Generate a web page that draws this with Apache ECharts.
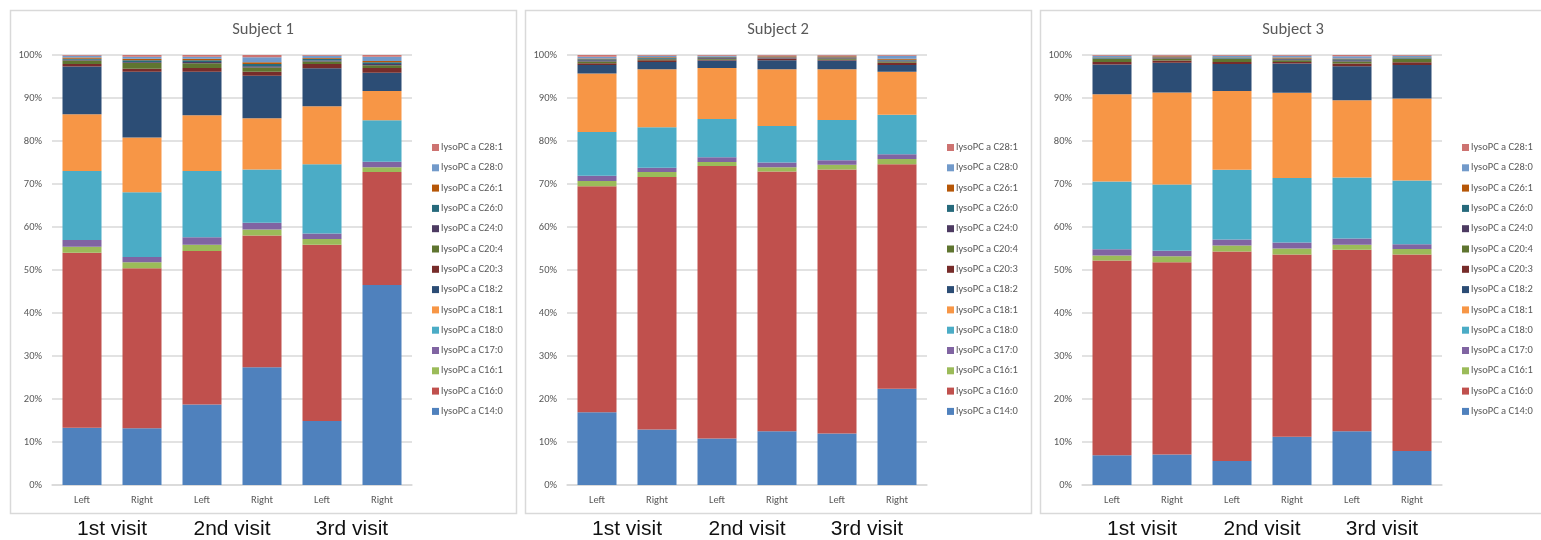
<!DOCTYPE html>
<html>
<head>
<meta charset="utf-8">
<script src="https://cdn.jsdelivr.net/npm/echarts@6/dist/echarts.min.js"></script>
<style>
  html, body { margin: 0; padding: 0; background: #ffffff; }
  #chart { width: 1541px; height: 540px; }
</style>
</head>
<body>
<div id="chart"></div>
<script>
// Panels, bar categories and visit groups
const subjects = ['Subject 1', 'Subject 2', 'Subject 3'];
const sides = ['Left', 'Right', 'Left', 'Right', 'Left', 'Right'];
const visits = ['1st visit', '2nd visit', '3rd visit'];
const yTicks = [0, 10, 20, 30, 40, 50, 60, 70, 80, 90, 100];

// Species, bottom of the stack first
const speciesNames = [
  'lysoPC a C14:0', 'lysoPC a C16:0', 'lysoPC a C16:1', 'lysoPC a C17:0',
  'lysoPC a C18:0', 'lysoPC a C18:1', 'lysoPC a C18:2', 'lysoPC a C20:3',
  'lysoPC a C20:4', 'lysoPC a C24:0', 'lysoPC a C26:0', 'lysoPC a C26:1',
  'lysoPC a C28:0', 'lysoPC a C28:1'
];
const speciesColors = [
  '#4F81BD', '#C0504D', '#9BBB59', '#8064A2', '#4BACC6', '#F79646', '#2C4D75',
  '#772C2A', '#5F7530', '#4D3B62', '#276A7C', '#B65708', '#729ACA', '#CD7371'
];

// Share of each species (%). Six bars per subject: S1 | S2 | S3
const C14_0 = [13.3, 13.2, 18.7, 27.4, 14.9, 46.5,  16.9, 12.9, 10.8, 12.5, 12.0, 22.4,  6.9, 7.1, 5.6, 11.2, 12.5, 7.9];
const C16_0 = [40.7, 37.2, 35.7, 30.6, 41.0, 26.3,  52.6, 58.7, 63.4, 60.4, 61.4, 52.2,  45.3, 44.7, 48.7, 42.4, 42.2, 45.7];
const C16_1 = [1.4, 1.4, 1.5, 1.4, 1.3, 1.1,  1.2, 1.2, 0.9, 1.0, 1.1, 1.2,  1.2, 1.4, 1.4, 1.4, 1.2, 1.3];
const C17_0 = [1.6, 1.2, 1.7, 1.6, 1.3, 1.3,  1.2, 1.0, 1.1, 1.1, 1.0, 1.1,  1.4, 1.3, 1.4, 1.4, 1.4, 1.1];
const C18_0 = [16.0, 15.1, 15.4, 12.4, 16.1, 9.6,  10.2, 9.4, 8.9, 8.5, 9.4, 9.2,  15.8, 15.4, 16.2, 15.0, 14.2, 14.8];
const C18_1 = [13.2, 12.7, 13.0, 11.9, 13.5, 6.8,  13.6, 13.5, 11.9, 13.2, 11.8, 10.0,  20.3, 21.4, 18.3, 19.8, 18.0, 19.1];
const C18_2 = [11.1, 15.3, 10.1, 9.9, 8.8, 4.3,  2.0, 1.7, 1.7, 2.1, 2.0, 1.6,  6.9, 6.9, 6.3, 6.8, 7.9, 7.8];
const C20_3 = [0.6, 0.7, 0.9, 0.9, 1.0, 1.1,  0.4, 0.4, 0.2, 0.3, 0.2, 0.5,  0.6, 0.5, 0.5, 0.4, 0.6, 0.6];
const C20_4 = [0.8, 1.4, 1.1, 1.0, 0.6, 0.6,  0.4, 0.2, 0.2, 0.1, 0.3, 0.3,  0.7, 0.5, 0.7, 0.4, 0.5, 0.8];
const C24_0 = [0.2, 0.2, 0.3, 0.3, 0.2, 0.3,  0.3, 0.1, 0.2, 0.2, 0.2, 0.2,  0.1, 0.2, 0.1, 0.2, 0.3, 0.1];
const C26_0 = [0.2, 0.4, 0.4, 0.5, 0.4, 0.4,  0.2, 0.2, 0.2, 0.1, 0.1, 0.2,  0.2, 0.1, 0.2, 0.2, 0.2, 0.2];
const C26_1 = [0.3, 0.3, 0.3, 0.4, 0.2, 0.3,  0.2, 0.2, 0.1, 0.2, 0.2, 0.2,  0.1, 0.2, 0.1, 0.2, 0.2, 0.1];
const C28_0 = [0.4, 0.5, 0.5, 1.2, 0.5, 1.0,  0.4, 0.3, 0.2, 0.1, 0.1, 0.7,  0.3, 0.1, 0.3, 0.4, 0.5, 0.3];
const C28_1 = [0.2, 0.4, 0.4, 0.5, 0.2, 0.4,  0.4, 0.2, 0.2, 0.2, 0.2, 0.2,  0.2, 0.2, 0.2, 0.2, 0.3, 0.2];

const speciesValues = [C14_0, C16_0, C16_1, C17_0, C18_0, C18_1, C18_2,
                       C20_3, C20_4, C24_0, C26_0, C26_1, C28_0, C28_1];

// 100% stacking: each bar is scaled to its own total
const barTotals = C14_0.map((_, i) => speciesValues.reduce((s, arr) => s + arr[i], 0));

const labelFont = 'Carlito, Lato, "Open Sans", sans-serif';
const labelColor = '#595959';
const panelStep = 515;

const chart = echarts.init(document.getElementById('chart'), null, { renderer: 'canvas' });

const grids = [], xAxes = [], yAxes = [], titles = [], legends = [], series = [], graphics = [];

subjects.forEach((subject, g) => {
  const off = g * panelStep;

  graphics.push({
    type: 'rect', silent: true,
    shape: { x: 10.5 + off, y: 10.5, width: 506, height: 503 },
    style: { fill: 'none', stroke: '#D9D9D9', lineWidth: 1.5 }
  });

  titles.push({
    text: subject,
    left: 263 + off, top: 21, padding: 0, textAlign: 'center',
    textStyle: { fontFamily: labelFont, fontSize: 16.5, fontWeight: 'normal', color: labelColor }
  });

  grids.push({ left: 52 + off, top: 55, width: 360, height: 431 });

  xAxes.push({
    type: 'category', gridIndex: g, data: sides, position: 'bottom',
    axisLine: { show: true, lineStyle: { color: '#D9D9D9', width: 1.5 } },
    axisTick: { show: false },
    axisLabel: { margin: 10, fontFamily: labelFont, fontSize: 10.5, color: labelColor }
  });
  xAxes.push({
    type: 'category', gridIndex: g, data: visits, position: 'bottom',
    axisLine: { show: false }, axisTick: { show: false }, splitLine: { show: false },
    axisLabel: { margin: 34, fontFamily: '"Liberation Sans", Arial, sans-serif', fontSize: 21, color: '#111111' }
  });

  yAxes.push({
    type: 'value', gridIndex: g, min: yTicks[0], max: yTicks[yTicks.length - 1], interval: 10,
    axisLine: { show: false }, axisTick: { show: false },
    splitLine: { lineStyle: { color: '#D9D9D9', width: 1.5 } },
    axisLabel: { margin: 10, fontFamily: labelFont, fontSize: 10.5, color: labelColor, formatter: '{value}%' }
  });

  legends.push({
    orient: 'vertical', left: 432 + off, top: 142, padding: 0,
    itemWidth: 7, itemHeight: 7, itemGap: 9.3, icon: 'rect',
    data: speciesNames.slice().reverse(),
    textStyle: { fontFamily: labelFont, fontSize: 10.5, lineHeight: 10, color: labelColor, padding: [0, 0, 0, -3] },
    selectedMode: false
  });

  speciesNames.forEach((name, k) => {
    series.push({
      name: name, type: 'bar', stack: 'subject' + g,
      xAxisIndex: g * 2, yAxisIndex: g,
      barCategoryGap: '35%',
      itemStyle: { color: speciesColors[k] },
      emphasis: { disabled: true },
      data: speciesValues[k].slice(g * 6, g * 6 + 6).map((v, i) => v / barTotals[g * 6 + i] * 100)
    });
  });
});

chart.setOption({
  backgroundColor: '#ffffff',
  animation: false,
  color: speciesColors,
  title: titles,
  grid: grids,
  xAxis: xAxes,
  yAxis: yAxes,
  legend: legends,
  series: series,
  graphic: graphics
});
</script>
</body>
</html>
